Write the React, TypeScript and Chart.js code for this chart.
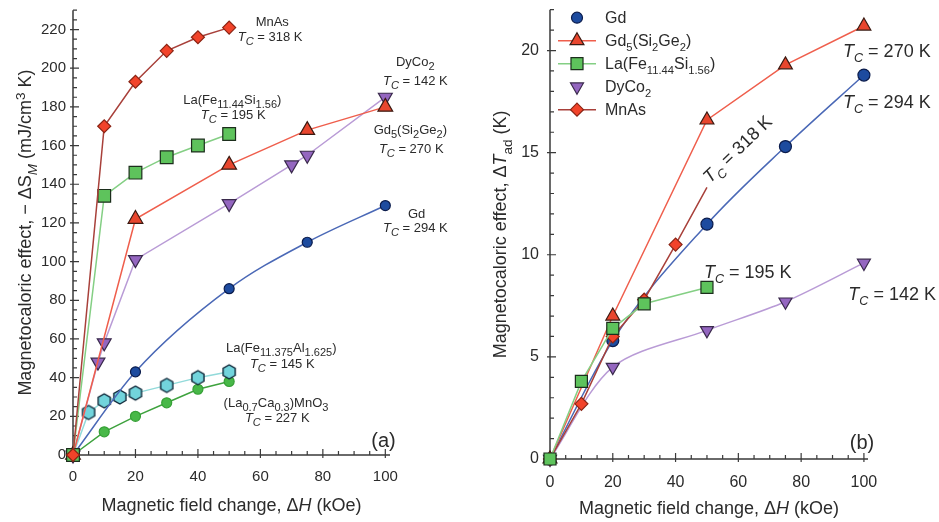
import React, { useEffect, useRef } from "react";
import { Chart, registerables } from "chart.js";
Chart.register(...registerables);

const FONT = '"Liberation Sans", Arial, Helvetica, sans-serif';
const TEXT = "#2b2b2b";
const AXIS = "#3a3a3a";

// ---------- Panel (a): -ΔS_M (mJ/cm^3 K) vs ΔH (kOe) ----------
const aMnAsX = [0, 10, 20, 30, 40, 50];
const aMnAsY = [0, 170, 193, 209, 216, 221];
const aLaFeSiX = [0, 10, 20, 30, 40, 50];
const aLaFeSiY = [0, 134, 146, 154, 160, 166];
const aGdSiGeX = [0, 20, 50, 75, 100];
const aGdSiGeY = [0, 122, 150, 168, 180];
const aDyCo2X = [0, 8, 10, 20, 50, 70, 75, 100];
const aDyCo2Y = [0, 48, 58, 101, 130, 150, 155, 185];
const aGdX = [0, 20, 50, 75, 100];
const aGdY = [0, 43, 86, 110, 129];
const aLaFeAlX = [0, 5, 10, 15, 20, 30, 40, 50];
const aLaFeAlY = [0, 22, 28, 30, 32, 36, 40, 43];
const aLaCaMnOX = [0, 10, 20, 30, 40, 50];
const aLaCaMnOY = [0, 12, 20, 27, 34, 38];
const aXTicks = [0, 20, 40, 60, 80, 100];
const aYTicks = [0, 20, 40, 60, 80, 100, 120, 140, 160, 180, 200, 220];

// ---------- Panel (b): ΔT_ad (K) vs ΔH (kOe) ----------
const bGdX = [0, 20, 50, 75, 100];
const bGdY = [0, 5.8, 11.5, 15.3, 18.8];
const bGdSiGeX = [0, 20, 50, 75, 100];
const bGdSiGeY = [0, 7.0, 16.6, 19.3, 21.2];
const bLaFeSiX = [0, 10, 20, 30, 50];
const bLaFeSiY = [0, 3.8, 6.4, 7.6, 8.4];
const bDyCo2X = [0, 20, 50, 75, 100];
const bDyCo2Y = [0, 4.5, 6.3, 7.7, 9.6];
const bMnAsX = [0, 10, 20, 30, 40, 50];
const bMnAsY = [0, 2.7, 6.0, 7.8, 10.5, 13.3];
const bXTicks = [0, 20, 40, 60, 80, 100];
const bYTicks = [0, 5, 10, 15, 20];

const COL = {
  mnas: { fill: "#f2432a", edge: "#8a2414", line: "#a8403a" },
  gdsige: { fill: "#e8462e", edge: "#3a1a12", line: "#ef5e4c" },
  lafesi: { fill: "#5ec35c", edge: "#1c2e1c", line: "#84cf84" },
  dyco2: { fill: "#9466c0", edge: "#3a2a4c", line: "#b99bd6" },
  gd: { fill: "#1d4b9f", edge: "#0b1c4c", line: "#4a68b6" },
  lafeal: { fill: "#72d4dc", edge: "#10293a", line: "#92dada" },
  lacamno: { fill: "#48b848", edge: "#36a036", line: "#3ea23e" },
};

type Seg = { t: string; sub?: boolean; sup?: boolean; it?: boolean };
const TC = (v: string): Seg[] => [
  { t: "T", it: true },
  { t: "C", sub: true, it: true },
  { t: " = " + v + " K" },
];

const aLabels = [
  { x: 63.8, y: 224.2, segs: [{ t: "MnAs" }] },
  { x: 63.1, y: 216.5, segs: TC("318") },
  { x: 51, y: 184, segs: [{ t: "La(Fe" }, { t: "11.44", sub: true }, { t: "Si" }, { t: "1.56", sub: true }, { t: ")" }] },
  { x: 51.3, y: 176.3, segs: TC("195") },
  { x: 109.6, y: 203.6, segs: [{ t: "DyCo" }, { t: "2", sub: true }] },
  { x: 109.6, y: 193.8, segs: TC("142") },
  { x: 108, y: 168.6, segs: [{ t: "Gd" }, { t: "5", sub: true }, { t: "(Si" }, { t: "2", sub: true }, { t: "Ge" }, { t: "2", sub: true }, { t: ")" }] },
  { x: 108.3, y: 158.4, segs: TC("270") },
  { x: 110, y: 125, segs: [{ t: "Gd" }] },
  { x: 109.6, y: 117.7, segs: TC("294") },
  { x: 66.7, y: 55.5, segs: [{ t: "La(Fe" }, { t: "11.375", sub: true }, { t: "Al" }, { t: "1.625", sub: true }, { t: ")" }] },
  { x: 67, y: 47.3, segs: TC("145") },
  { x: 65, y: 27.2, segs: [{ t: "(La" }, { t: "0.7", sub: true }, { t: "Ca" }, { t: "0.3", sub: true }, { t: ")MnO" }, { t: "3", sub: true }] },
  { x: 65.4, y: 19.5, segs: TC("227") },
];

const bLabels = [
  { x: 107.3, y: 20.0, segs: TC("270"), rot: 0 },
  { x: 107.3, y: 17.5, segs: TC("294"), rot: 0 },
  { x: 59.6, y: 15.2, segs: TC("318"), rot: -44 },
  { x: 63, y: 9.2, segs: TC("195"), rot: 0 },
  { x: 109, y: 8.1, segs: TC("142"), rot: 0 },
];

const bLegend = [
  { segs: [{ t: "Gd" }] as Seg[], style: "circle", c: COL.gd, line: false, r: 5.5 },
  { segs: [{ t: "Gd" }, { t: "5", sub: true }, { t: "(Si" }, { t: "2", sub: true }, { t: "Ge" }, { t: "2", sub: true }, { t: ")" }] as Seg[], style: "triangle", c: COL.gdsige, line: true, r: 8 },
  { segs: [{ t: "La(Fe" }, { t: "11.44", sub: true }, { t: "Si" }, { t: "1.56", sub: true }, { t: ")" }] as Seg[], style: "rect", c: COL.lafesi, line: true, r: 8.5 },
  { segs: [{ t: "DyCo" }, { t: "2", sub: true }] as Seg[], style: "down", c: COL.dyco2, line: false, r: 7.5 },
  { segs: [{ t: "MnAs" }] as Seg[], style: "rectRot", c: COL.mnas, line: true, r: 6.5 },
];

function segFont(s: Seg, size: number, scale: number) {
  const sz = s.sub || s.sup ? size * scale : size;
  return `${s.it ? "italic " : ""}${sz}px ${FONT}`;
}

function drawRich(
  ctx: CanvasRenderingContext2D,
  segs: Seg[],
  x: number,
  y: number,
  size: number,
  scale: number,
  align: "center" | "left",
  rotDeg = 0
) {
  ctx.save();
  ctx.translate(x, y);
  ctx.rotate((rotDeg * Math.PI) / 180);
  ctx.textBaseline = "alphabetic";
  ctx.textAlign = "left";
  ctx.fillStyle = TEXT;
  let w = 0;
  for (const s of segs) {
    ctx.font = segFont(s, size, scale);
    w += ctx.measureText(s.t).width;
  }
  let cx = align === "center" ? -w / 2 : 0;
  const base = size * 0.36;
  for (const s of segs) {
    ctx.font = segFont(s, size, scale);
    const dy = s.sub ? size * 0.3 : s.sup ? -size * 0.38 : 0;
    ctx.fillText(s.t, cx, base + dy);
    cx += ctx.measureText(s.t).width;
  }
  ctx.restore();
}

function drawMark(ctx: CanvasRenderingContext2D, style: string, x: number, y: number, r: number, fill: string, edge: string) {
  ctx.beginPath();
  if (style === "circle") ctx.arc(x, y, r, 0, Math.PI * 2);
  else if (style === "triangle" || style === "down") {
    const s = style === "down" ? -1 : 1;
    ctx.moveTo(x, y - s * r);
    ctx.lineTo(x + r * 0.866, y + s * r * 0.5);
    ctx.lineTo(x - r * 0.866, y + s * r * 0.5);
    ctx.closePath();
  } else if (style === "rect") {
    const h = r * Math.SQRT1_2;
    ctx.rect(x - h, y - h, 2 * h, 2 * h);
  } else {
    ctx.moveTo(x, y - r);
    ctx.lineTo(x + r, y);
    ctx.lineTo(x, y + r);
    ctx.lineTo(x - r, y);
    ctx.closePath();
  }
  ctx.fillStyle = fill;
  ctx.fill();
  ctx.strokeStyle = edge;
  ctx.lineWidth = 1.2;
  ctx.stroke();
}

function hexImage(r: number, fill: string, edge: string) {
  const s = Math.ceil(r * 2 + 4);
  const c = document.createElement("canvas");
  c.width = s;
  c.height = s;
  const g = c.getContext("2d")!;
  g.beginPath();
  for (let k = 0; k < 6; k++) {
    const a = (Math.PI / 3) * k + Math.PI / 6;
    const px = s / 2 + r * Math.cos(a);
    const py = s / 2 + r * Math.sin(a);
    if (k === 0) g.moveTo(px, py);
    else g.lineTo(px, py);
  }
  g.closePath();
  g.fillStyle = fill;
  g.fill();
  g.strokeStyle = edge;
  g.lineWidth = 1.4;
  g.stroke();
  return c;
}

function ds(label: string, xs: number[], ys: number[], c: any, style: any, radius: any, extra: any = {}) {
  return {
    label,
    data: xs.map((x, i) => ({ x, y: ys[i] })),
    borderColor: c.line,
    backgroundColor: c.fill,
    pointBackgroundColor: c.fill,
    pointBorderColor: c.edge,
    pointBorderWidth: 1.2,
    pointStyle: style,
    pointRadius: radius,
    borderWidth: 1.5,
    tension: 0,
    clip: false,
    ...extra,
  };
}

type Spec = {
  xMinor: number;
  xMajor: number;
  yMinor: number;
  yMajor: number;
  yTitle: Seg[];
  yTitleX: number;
  xTitleY: number;
  titleSize: number;
  labels: { x: number; y: number; segs: Seg[]; rot?: number }[];
  labelSize: number;
  labelScale: number;
  panel: { x: number; y: number; t: string };
  legend?: typeof bLegend;
};

const xTitle: Seg[] = [{ t: "Magnetic field change, Δ" }, { t: "H", it: true }, { t: " (kOe)" }];

function deco(spec: Spec) {
  return {
    id: "deco",
    beforeDatasetsDraw(chart: any) {
      const { ctx, chartArea: ca, scales } = chart;
      const x = scales.x, y = scales.y;
      ctx.save();
      ctx.strokeStyle = AXIS;
      ctx.lineWidth = 1.5;
      ctx.beginPath();
      ctx.moveTo(ca.left, ca.top);
      ctx.lineTo(ca.left, ca.bottom);
      ctx.lineTo(ca.right, ca.bottom);
      ctx.stroke();
      ctx.lineWidth = 1.2;
      ctx.beginPath();
      for (let i = 0; i * spec.xMinor <= x.max + 1e-9; i++) {
        const v = i * spec.xMinor;
        const major = Math.abs(v / spec.xMajor - Math.round(v / spec.xMajor)) < 1e-6;
        const px = x.getPixelForValue(v);
        ctx.moveTo(px, ca.bottom + (major ? 3 : 0));
        ctx.lineTo(px, ca.bottom - (major ? 6 : 4));
      }
      for (let i = 0; i * spec.yMinor <= y.max + 1e-9; i++) {
        const v = i * spec.yMinor;
        const major = Math.abs(v / spec.yMajor - Math.round(v / spec.yMajor)) < 1e-6;
        const py = y.getPixelForValue(v);
        ctx.moveTo(ca.left - (major ? 3 : 0), py);
        ctx.lineTo(ca.left + (major ? 6 : 4), py);
      }
      ctx.stroke();
      ctx.restore();
    },
    afterDatasetsDraw(chart: any) {
      const { ctx, chartArea: ca, scales } = chart;
      const x = scales.x, y = scales.y;
      drawRich(ctx, spec.yTitle, spec.yTitleX, (ca.top + ca.bottom) / 2, spec.titleSize, 0.75, "center", -90);
      drawRich(ctx, xTitle, (ca.left + ca.right) / 2, spec.xTitleY, spec.titleSize, 0.75, "center");
      for (const l of spec.labels) {
        drawRich(ctx, l.segs, x.getPixelForValue(l.x), y.getPixelForValue(l.y), spec.labelSize, spec.labelScale, "center", l.rot || 0);
      }
      drawRich(ctx, [{ t: spec.panel.t }], x.getPixelForValue(spec.panel.x), y.getPixelForValue(spec.panel.y), 20, 1, "center");
      if (spec.legend) {
        spec.legend.forEach((it, i) => {
          const cy = ca.top + 8 + i * 23;
          const mx = ca.left + 27;
          if (it.line) {
            ctx.save();
            ctx.strokeStyle = it.c.line;
            ctx.lineWidth = 1.5;
            ctx.beginPath();
            ctx.moveTo(mx - 19, cy);
            ctx.lineTo(mx + 19, cy);
            ctx.stroke();
            ctx.restore();
          }
          drawMark(ctx, it.style, mx, cy, it.r, it.c.fill, it.c.edge);
          drawRich(ctx, it.segs, mx + 28, cy, 16, 0.7, "left");
        });
      }
    },
  };
}

function scaleOpts(min: number, max: number, ticks: number[], size: number, pad: number, fit: (s: any) => void) {
  return {
    type: "linear",
    min,
    max,
    grid: { display: false, drawTicks: false },
    border: { display: false },
    afterBuildTicks: (s: any) => {
      s.ticks = ticks.map((v) => ({ value: v }));
    },
    afterFit: fit,
    ticks: { font: { family: FONT, size }, color: TEXT, padding: pad, autoSkip: false, maxRotation: 0 },
  };
}

function configA(hex: HTMLCanvasElement): any {
  const datasets = [
    ds("MnAs", aMnAsX, aMnAsY, COL.mnas, "rectRot", 6.5),
    ds("La(Fe11.44Si1.56)", aLaFeSiX, aLaFeSiY, COL.lafesi, "rect", 9),
    ds("Gd5(Si2Ge2)", aGdSiGeX, aGdSiGeY, COL.gdsige, "triangle", 8.5),
    ds("DyCo2", aDyCo2X, aDyCo2Y, COL.dyco2, "triangle", 8, { pointRotation: 180 }),
    ds("Gd", aGdX, aGdY, COL.gd, "circle", 5, { cubicInterpolationMode: "monotone" }),
    ds("La(Fe11.375Al1.625)", aLaFeAlX, aLaFeAlY, COL.lafeal, hex, 7),
    ds("(La0.7Ca0.3)MnO3", aLaCaMnOX, aLaCaMnOY, COL.lacamno, "circle", 5),
  ];
  const spec: Spec = {
    xMinor: 5, xMajor: 20, yMinor: 5, yMajor: 20,
    yTitle: [{ t: "Magnetocaloric effect, − ΔS" }, { t: "M", sub: true, it: true }, { t: " (mJ/cm" }, { t: "3", sup: true }, { t: " K)" }],
    yTitleX: 25, xTitleY: 505, titleSize: 18,
    labels: aLabels, labelSize: 13, labelScale: 0.85,
    panel: { x: 99.4, y: 7.7, t: "(a)" },
  };
  return {
    type: "line",
    data: { datasets },
    options: {
      responsive: false,
      maintainAspectRatio: false,
      animation: false,
      layout: { padding: { top: 8, right: 80, left: 0, bottom: 0 } },
      plugins: { legend: { display: false }, tooltip: { enabled: false } },
      scales: {
        x: scaleOpts(0, 101.5, aXTicks, 15, 13, (s) => { s.height = 67; s.paddingLeft = 0; s.paddingRight = 0; }),
        y: scaleOpts(0, 230, aYTicks, 15, 7, (s) => { s.width = 73; s.paddingTop = 0; s.paddingBottom = 0; }),
      },
    },
    plugins: [deco(spec)],
  };
}

function configB(): any {
  const datasets = [
    ds("La(Fe11.44Si1.56)", bLaFeSiX, bLaFeSiY, COL.lafesi, "rect", 8.5),
    ds("MnAs", bMnAsX, bMnAsY, COL.mnas, "rectRot", (c: any) => (c.dataIndex === bMnAsX.length - 1 ? 0 : 6.5)),
    ds("Gd5(Si2Ge2)", bGdSiGeX, bGdSiGeY, COL.gdsige, "triangle", 8),
    ds("Gd", bGdX, bGdY, COL.gd, "circle", 6, { cubicInterpolationMode: "monotone" }),
    ds("DyCo2", bDyCo2X, bDyCo2Y, COL.dyco2, "triangle", 7.5, { pointRotation: 180, tension: 0.3 }),
  ];
  const spec: Spec = {
    xMinor: 5, xMajor: 20, yMinor: 1, yMajor: 5,
    yTitle: [{ t: "Magnetocaloric effect, Δ" }, { t: "T", it: true }, { t: "ad", sub: true }, { t: " (K)" }],
    yTitleX: 30, xTitleY: 508, titleSize: 18,
    labels: bLabels, labelSize: 18, labelScale: 0.7,
    panel: { x: 99.4, y: 0.85, t: "(b)" },
    legend: bLegend,
  };
  return {
    type: "line",
    data: { datasets },
    options: {
      responsive: false,
      maintainAspectRatio: false,
      animation: false,
      layout: { padding: { top: 8, right: 71, left: 0, bottom: 0 } },
      plugins: { legend: { display: false }, tooltip: { enabled: false } },
      scales: {
        x: scaleOpts(0, 101.3, bXTicks, 16, 14, (s) => { s.height = 63; s.paddingLeft = 0; s.paddingRight = 0; }),
        y: scaleOpts(0, 22, bYTicks, 16, 11, (s) => { s.width = 80; s.paddingTop = 0; s.paddingBottom = 0; }),
      },
    },
    plugins: [deco(spec)],
  };
}

export default function App() {
  const refA = useRef<HTMLCanvasElement>(null);
  const refB = useRef<HTMLCanvasElement>(null);
  useEffect(() => {
    const hex = hexImage(7, COL.lafeal.fill, COL.lafeal.edge);
    const a = new Chart(refA.current!, configA(hex));
    const b = new Chart(refB.current!, configB());
    return () => {
      a.destroy();
      b.destroy();
    };
  }, []);
  return (
    <div style={{ position: "fixed", left: 0, top: 0, width: 939, height: 522, background: "#fff" }}>
      <canvas ref={refA} width={470} height={522} style={{ position: "absolute", left: 0, top: 0, width: 470, height: 522 }} />
      <canvas ref={refB} width={469} height={522} style={{ position: "absolute", left: 470, top: 0, width: 469, height: 522 }} />
    </div>
  );
}
